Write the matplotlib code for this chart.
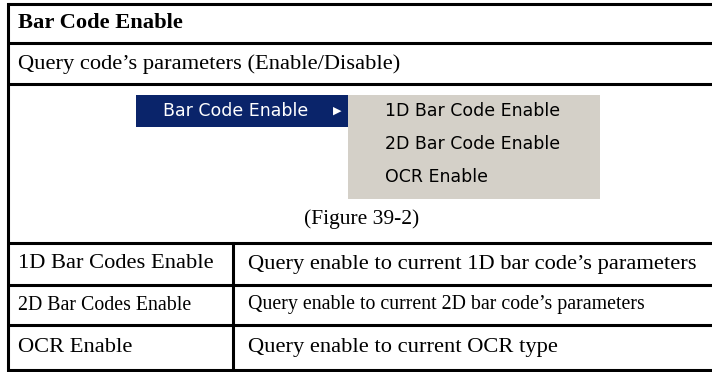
import matplotlib.pyplot as plt
from matplotlib.patches import Rectangle

W, H = 712, 372

title = "Bar Code Enable"
subtitle = "Query code\u2019s parameters (Enable/Disable)"
menu_parent = "Bar Code Enable"
menu_items = ["1D Bar Code Enable", "2D Bar Code Enable", "OCR Enable"]
caption = "(Figure 39-2)"
row_names = ["1D Bar Codes Enable", "2D Bar Codes Enable", "OCR Enable"]
row_descs = [
    "Query enable to current 1D bar code\u2019s parameters",
    "Query enable to current 2D bar code\u2019s parameters",
    "Query enable to current OCR type",
]
row_sizes = [16.2, 14.3, 16.2]

# layout in pixels (y grows downward); table runs off the right edge
left, right, col_x = 8, 716, 233
h_lines = [4, 43, 84, 243, 285, 325, 370]
serif = ["Liberation Serif", "DejaVu Serif"]
sans = ["DejaVu Sans"]

fig = plt.figure(figsize=(W / 100, H / 100), dpi=100)
ax = fig.add_axes([0, 0, 1, 1])
ax.set_xlim(0, W)
ax.set_ylim(H, 0)
ax.axis("off")

for y in h_lines:
    ax.plot([left, right], [y, y], color="black", lw=2.2, solid_capstyle="butt")
ax.plot([left, left], [h_lines[0], h_lines[-1]], color="black", lw=2.2)
ax.plot([col_x, col_x], [h_lines[3], h_lines[-1]], color="black", lw=2.2)

ax.text(18, 23, title, fontsize=16.2, fontweight="bold", family=serif, va="center")
ax.text(18, 64, subtitle, fontsize=16.2, family=serif, va="center")

# menu screenshot
ax.add_patch(Rectangle((348, 95), 252, 104, color="#D4D0C8", lw=0))
ax.add_patch(Rectangle((136, 95), 212, 32, color="#0A246A", lw=0))
ax.text(163, 111, menu_parent, fontsize=12.5, color="white",
        family=sans, va="center")
ax.text(337, 111, "\u25B6", fontsize=8, color="white", va="center", ha="center")
for i, item in enumerate(menu_items):
    ax.text(385, 111 + 33 * i, item, fontsize=12.5, color="black",
            family=sans, va="center")

ax.text(362, 219, caption, fontsize=15.5, family=serif, va="center", ha="center")

for i, (name, desc, fs) in enumerate(zip(row_names, row_descs, row_sizes)):
    yc = (h_lines[3 + i] + h_lines[4 + i]) / 2
    ax.text(18, yc, name, fontsize=fs, family=serif, va="center")
    ax.text(248, yc, desc, fontsize=fs, family=serif, va="center")

fig.savefig("out.png", dpi=100)
